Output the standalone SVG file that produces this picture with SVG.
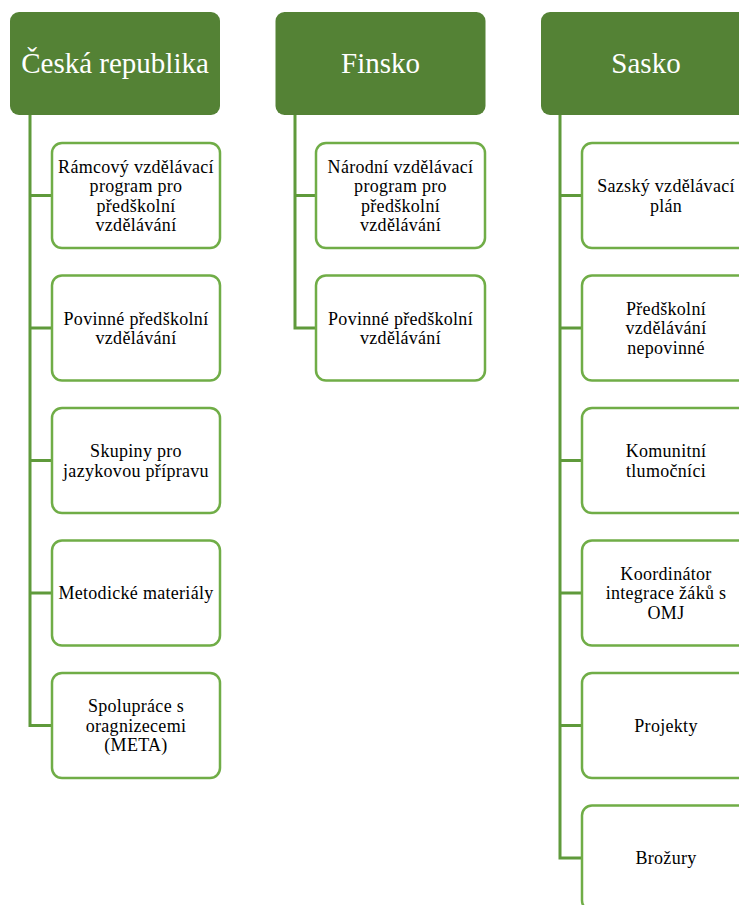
<svg xmlns="http://www.w3.org/2000/svg" width="739" height="905" viewBox="0 0 739 905">
<style>
.hdr{fill:#548235;}
.hdrt{font-size:29px;fill:#ffffff;text-anchor:middle;}
.box{fill:#ffffff;stroke:#70AD47;stroke-width:2.5;}
.bt{font-size:18px;fill:#000000;text-anchor:middle;letter-spacing:0.3px;}
.con{fill:none;stroke:#5F9A3B;stroke-width:3;}
</style>
<rect width="739" height="905" fill="#ffffff"/>
<g id="connectors">
<path class="con" d="M30,115 V725.5 H52 M30,195.5 H52 M30,328 H52 M30,460.5 H52 M30,593 H52"/>
<path class="con" d="M295,115 V328 H316 M295,195.5 H316"/>
<path class="con" d="M560,115 V858 H582 M560,195.5 H582 M560,328 H582 M560,460.5 H582 M560,593 H582 M560,725.5 H582"/>
</g>
<g id="nodes" font-family="Liberation Serif, serif">
<g id="h-cz"><rect class="hdr" x="10" y="12" width="210" height="103" rx="9"/><text class="hdrt" font-family="Liberation Serif, serif" x="115" y="73">Česká republika</text></g>
<g id="h-fi"><rect class="hdr" x="275.5" y="12" width="210" height="103" rx="9"/><text class="hdrt" font-family="Liberation Serif, serif" x="380.5" y="73">Finsko</text></g>
<g id="h-sa"><rect class="hdr" x="541" y="12" width="210" height="103" rx="9"/><text class="hdrt" font-family="Liberation Serif, serif" x="646" y="73">Sasko</text></g>

<g id="cz1"><rect class="box" x="52" y="143" width="168" height="105" rx="10"/><text class="bt" font-family="Liberation Serif, serif"><tspan x="136" y="172.5">Rámcový vzdělávací</tspan><tspan x="136" y="192">program pro</tspan><tspan x="136" y="211.5">předškolní</tspan><tspan x="136" y="231">vzdělávání</tspan></text></g>
<g id="cz2"><rect class="box" x="52" y="275.5" width="168" height="105" rx="10"/><text class="bt" font-family="Liberation Serif, serif"><tspan x="136" y="324.5">Povinné předškolní</tspan><tspan x="136" y="344">vzdělávání</tspan></text></g>
<g id="cz3"><rect class="box" x="52" y="408" width="168" height="105" rx="10"/><text class="bt" font-family="Liberation Serif, serif"><tspan x="136" y="457">Skupiny pro</tspan><tspan x="136" y="476.5">jazykovou přípravu</tspan></text></g>
<g id="cz4"><rect class="box" x="52" y="540.5" width="168" height="105" rx="10"/><text class="bt" font-family="Liberation Serif, serif"><tspan x="136" y="599">Metodické materiály</tspan></text></g>
<g id="cz5"><rect class="box" x="52" y="673" width="168" height="105" rx="10"/><text class="bt" font-family="Liberation Serif, serif"><tspan x="136" y="712">Spolupráce s</tspan><tspan x="136" y="731.5">oragnizecemi</tspan><tspan x="136" y="751">(META)</tspan></text></g>

<g id="fi1"><rect class="box" x="316" y="143" width="169" height="105" rx="10"/><text class="bt" font-family="Liberation Serif, serif"><tspan x="400.5" y="172.5">Národní vzdělávací</tspan><tspan x="400.5" y="192">program pro</tspan><tspan x="400.5" y="211.5">předškolní</tspan><tspan x="400.5" y="231">vzdělávání</tspan></text></g>
<g id="fi2"><rect class="box" x="316" y="275.5" width="169" height="105" rx="10"/><text class="bt" font-family="Liberation Serif, serif"><tspan x="400.5" y="324.5">Povinné předškolní</tspan><tspan x="400.5" y="344">vzdělávání</tspan></text></g>

<g id="sa1"><rect class="box" x="582" y="143" width="168" height="105" rx="10"/><text class="bt" font-family="Liberation Serif, serif"><tspan x="666" y="192">Sazský vzdělávací</tspan><tspan x="666" y="211.5">plán</tspan></text></g>
<g id="sa2"><rect class="box" x="582" y="275.5" width="168" height="105" rx="10"/><text class="bt" font-family="Liberation Serif, serif"><tspan x="666" y="314.5">Předškolní</tspan><tspan x="666" y="334">vzdělávání</tspan><tspan x="666" y="353.5">nepovinné</tspan></text></g>
<g id="sa3"><rect class="box" x="582" y="408" width="168" height="105" rx="10"/><text class="bt" font-family="Liberation Serif, serif"><tspan x="666" y="457">Komunitní</tspan><tspan x="666" y="476.5">tlumočníci</tspan></text></g>
<g id="sa4"><rect class="box" x="582" y="540.5" width="168" height="105" rx="10"/><text class="bt" font-family="Liberation Serif, serif"><tspan x="666" y="579.5">Koordinátor</tspan><tspan x="666" y="599">integrace žáků s</tspan><tspan x="666" y="618.5">OMJ</tspan></text></g>
<g id="sa5"><rect class="box" x="582" y="673" width="168" height="105" rx="10"/><text class="bt" font-family="Liberation Serif, serif"><tspan x="666" y="731.5">Projekty</tspan></text></g>
<g id="sa6"><rect class="box" x="582" y="805.5" width="168" height="105" rx="10"/><text class="bt" font-family="Liberation Serif, serif"><tspan x="666" y="864">Brožury</tspan></text></g>
</g>
</svg>
